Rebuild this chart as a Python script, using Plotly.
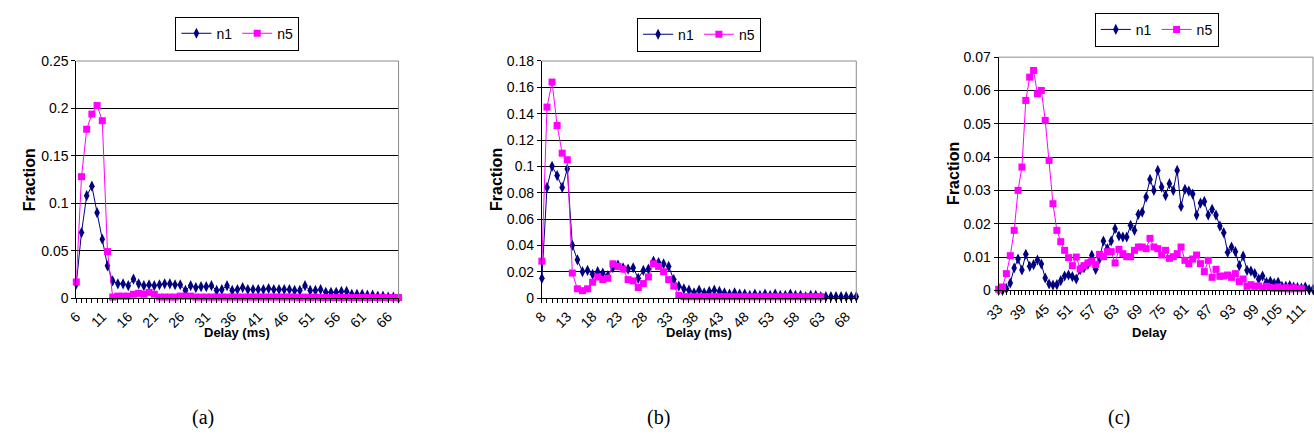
import plotly.graph_objects as go

# ---------------- data ----------------
a_delay = list(range(6, 69))
a_n1 = [0.015, 0.069, 0.108, 0.118, 0.090, 0.062, 0.034, 0.018, 0.015, 0.015,
        0.013, 0.020, 0.015, 0.013, 0.014, 0.013, 0.014, 0.015, 0.015, 0.014,
        0.014, 0.008, 0.013, 0.011, 0.012, 0.012, 0.013, 0.008, 0.009, 0.013,
        0.008, 0.009, 0.011, 0.009, 0.009, 0.009, 0.009, 0.010, 0.009, 0.009,
        0.009, 0.009, 0.008, 0.008, 0.013, 0.008, 0.008, 0.009, 0.006, 0.006,
        0.006, 0.007, 0.007, 0.004, 0.004, 0.004, 0.003, 0.003, 0.002, 0.002,
        0.001, 0.001, 0.0]
a_n5 = [0.017, 0.128, 0.178, 0.194, 0.203, 0.187, 0.049, 0.001, 0.002, 0.002,
        0.002, 0.004, 0.005, 0.004, 0.006, 0.004, 0.001, 0.001, 0.001, 0.001,
        0.002, 0.002, 0.002, 0.001, 0.001, 0.001, 0.001, 0.001, 0.001, 0.001,
        0.001, 0.001, 0.001, 0.001, 0.001, 0.001, 0.001, 0.001, 0.001, 0.001,
        0.001, 0.001, 0.001, 0.0005, 0.001, 0.0005, 0.001, 0.0005, 0.0005, 0.0005,
        0.0005, 0.0005, 0.0005, 0.0005, 0.0005, 0.0005, 0.0005, 0.0005, 0.0005, 0.0005,
        0.0005, 0.0005, 0.0005]

b_delay = list(range(8, 71))
b_n1 = [0.015, 0.084, 0.100, 0.093, 0.084, 0.098, 0.040, 0.029, 0.020, 0.021,
        0.018, 0.020, 0.019, 0.017, 0.023, 0.025, 0.023, 0.022, 0.023, 0.015,
        0.021, 0.022, 0.028, 0.027, 0.026, 0.024, 0.014, 0.009, 0.007, 0.006,
        0.004, 0.006, 0.004, 0.005, 0.006, 0.005, 0.004, 0.003, 0.004, 0.003,
        0.003, 0.002, 0.003, 0.002, 0.003, 0.002, 0.003, 0.002, 0.002, 0.003,
        0.002, 0.002, 0.001, 0.002, 0.002, 0.001, 0.001, 0.001, 0.001, 0.001,
        0.001, 0.001, 0.001]
b_n5 = [0.028, 0.145, 0.164, 0.131, 0.110, 0.105, 0.019, 0.007, 0.0056, 0.007,
        0.012, 0.016, 0.014, 0.015, 0.026, 0.024, 0.022, 0.014, 0.013, 0.008,
        0.011, 0.016, 0.026, 0.024, 0.020, 0.014, 0.009, 0.002, 0.001, 0.001,
        0.001, 0.001, 0.001, 0.001, 0.001, 0.001, 0.001, 0.001, 0.001, 0.001,
        0.001, 0.001, 0.001, 0.001, 0.001, 0.001, 0.001, 0.001, 0.001, 0.001,
        0.001, 0.001, 0.001, 0.001, 0.001, 0.001,
        None, None, None, None, None, None, None]

c_delay = list(range(33, 115))
c_n1 = [0.0, 0.0, 0.0005, 0.0022, 0.0067, 0.0094, 0.0061, 0.0108, 0.0072, 0.0077,
        0.0091, 0.0079, 0.0037, 0.0019, 0.0016, 0.0017, 0.0029, 0.0043, 0.0046, 0.0041,
        0.0034, 0.0062, 0.0068, 0.0078, 0.0105, 0.0063, 0.0095, 0.0148, 0.0125, 0.0148,
        0.0185, 0.0163, 0.016, 0.016, 0.0195, 0.018, 0.0228, 0.0235, 0.028, 0.0333,
        0.030, 0.036, 0.031, 0.0285, 0.032, 0.030, 0.036, 0.0252, 0.0303, 0.0298,
        0.0289, 0.0226, 0.0262, 0.0267, 0.0226, 0.0243, 0.0226, 0.0193, 0.0173, 0.0114,
        0.013, 0.0116, 0.0074, 0.0103, 0.006, 0.0058, 0.005, 0.0034, 0.0043, 0.0024,
        0.0027, 0.0021, 0.0024, 0.0012, 0.0012, 0.0014, 0.001, 0.0008, 0.0007, 0.001,
        0.0002, 0.0003]
c_n5 = [0.0003, 0.001, 0.005, 0.0104, 0.018, 0.030, 0.037, 0.057, 0.064, 0.066,
        0.059, 0.060, 0.051, 0.039, 0.026, 0.018, 0.0146, 0.012, 0.0098, 0.0074,
        0.010, 0.0064, 0.0074, 0.0082, 0.0088, 0.0077, 0.0108, 0.0101, 0.0116, 0.0116,
        0.0082, 0.0123, 0.011, 0.0101, 0.0101, 0.012, 0.013, 0.013, 0.0125, 0.0156,
        0.013, 0.0125, 0.0106, 0.012, 0.0096, 0.0101, 0.011, 0.013, 0.009, 0.008,
        0.0094, 0.0106, 0.008, 0.0056, 0.009, 0.0039, 0.0063, 0.0042, 0.0043, 0.0046,
        0.0039, 0.005, 0.0026, 0.0034, 0.0012, 0.0017, 0.0012, 0.0013, 0.0007, 0.0012,
        0.0008, 0.0006, 0.001, 0.0005, 0.0008, 0.0004, 0.0008, 0.0005, 0.0005,
        None, None, None]

series_names = ["n1", "n5"]
captions = ["(a)", "(b)", "(c)"]
x_titles = ["Delay (ms)", "Delay (ms)", "Delay"]

# ---------------- styling ----------------
W, H = 1314, 439
N1_COLOR = "#000080"
N5_COLOR = "#FF00FF"
FONT = "Liberation Sans, Arial, sans-serif"


def px(x):
    return x / W


def py(y):
    return 1 - y / H


fig = go.Figure()

panels = [
    dict(x=a_delay, n1=a_n1, n5=a_n5, xd=(62, 388), yd=(55, 301), yr=0.25, ydt=0.05,
         xr=(6, 68), xdt=5, leg=(225, 9)),
    dict(x=b_delay, n1=b_n1, n5=b_n5, xd=(533, 851), yd=(55, 301), yr=0.18, ydt=0.02,
         xr=(8, 70), xdt=5, leg=(692, 10)),
    dict(x=c_delay, n1=c_n1, n5=c_n5, xd=(995, 1313), yd=(51, 293), yr=0.07, ydt=0.01,
         xr=(33, 114), xdt=6, leg=(1155, 5)),
]

layout_axes = {}
legends = {}
shapes = []
for i, p in enumerate(panels):
    sfx = "" if i == 0 else str(i + 1)
    xa, ya = "x" + sfx, "y" + sfx
    leg = "legend" + sfx
    fig.add_trace(go.Scatter(
        x=p["x"], y=p["n1"], name=series_names[0], mode="lines+markers",
        line=dict(color=N1_COLOR, width=1),
        marker=dict(symbol="diamond-tall", size=8, color=N1_COLOR),
        xaxis=xa, yaxis=ya, legend=leg, cliponaxis=False, connectgaps=False))
    fig.add_trace(go.Scatter(
        x=p["x"], y=p["n5"], name=series_names[1], mode="lines+markers",
        line=dict(color=N5_COLOR, width=1),
        marker=dict(symbol="square", size=7, color=N5_COLOR),
        xaxis=xa, yaxis=ya, legend=leg, cliponaxis=False, connectgaps=False))

    layout_axes["xaxis" + sfx] = dict(
        domain=[px(p["xd"][0]), px(p["xd"][1])], anchor=ya,
        range=list(p["xr"]), tick0=p["xr"][0], dtick=p["xdt"], tickmode="linear",
        showgrid=False, zeroline=False, showline=True, linecolor="black", linewidth=1,
        ticks="outside", ticklen=4, tickcolor="black", tickangle=-45,
        tickfont=dict(family=FONT, size=14, color="black"),
        minor=dict(dtick=1, tick0=p["xr"][0], ticks="outside", ticklen=4,
                   tickcolor="black", showgrid=False),
    )
    layout_axes["yaxis" + sfx] = dict(
        domain=[py(p["yd"][1]), py(p["yd"][0])], anchor=xa,
        range=[0, p["yr"]], dtick=p["ydt"], tick0=0, tickmode="linear",
        showgrid=True, gridcolor="black", gridwidth=1, zeroline=False,
        showline=True, linecolor="black", linewidth=1,
        ticks="outside", ticklen=4, tickcolor="black",
        tickfont=dict(family=FONT, size=14, color="black"),
    )
    legends[leg] = dict(
        x=px(p["leg"][0]), y=py(p["leg"][1]), xanchor="center", yanchor="top",
        orientation="h", bordercolor="black", borderwidth=1, bgcolor="white",
        font=dict(family=FONT, size=14, color="black"), itemwidth=30,
        tracegroupgap=0, itemclick=False,
    )
    # grey plot-area border on top and right
    shapes.append(dict(type="line", xref=xa + " domain", yref=ya + " domain",
                       x0=0, x1=1, y0=1, y1=1, line=dict(color="#8c8c8c", width=1)))
    shapes.append(dict(type="line", xref=xa + " domain", yref=ya + " domain",
                       x0=1, x1=1, y0=0, y1=1, line=dict(color="#8c8c8c", width=1)))

annotations = []
frac_pos = [(15, 178), (487, 178), (950, 172)]
delay_pos = [(225, 337), (692, 337), (1148, 337)]
cap_pos = [(190, 425), (651, 425), (1117, 425)]
for i in range(3):
    annotations.append(dict(text="<b>Fraction</b>", x=px(frac_pos[i][0]), y=py(frac_pos[i][1]),
                            xref="paper", yref="paper", showarrow=False, textangle=-90,
                            font=dict(family=FONT, size=16, color="black"),
                            xanchor="center", yanchor="middle"))
    annotations.append(dict(text="<b>" + x_titles[i] + "</b>", x=px(delay_pos[i][0]),
                            y=py(delay_pos[i][1]), xref="paper", yref="paper",
                            showarrow=False, font=dict(family=FONT, size=13, color="black"),
                            xanchor="center", yanchor="middle"))
    annotations.append(dict(text=captions[i], x=px(cap_pos[i][0]), y=py(cap_pos[i][1]),
                            xref="paper", yref="paper", showarrow=False,
                            font=dict(family="Liberation Serif, Times New Roman, serif",
                                      size=20, color="black"),
                            xanchor="center", yanchor="middle"))

fig.update_layout(
    width=W, height=H, autosize=False,
    margin=dict(l=0, r=0, t=0, b=0),
    paper_bgcolor="white", plot_bgcolor="white",
    showlegend=True,
    annotations=annotations, shapes=shapes,
    **layout_axes, **legends,
)

fig.write_html("out.html",
               post_script="document.body.style.margin='0';document.body.style.overflow='hidden';")
